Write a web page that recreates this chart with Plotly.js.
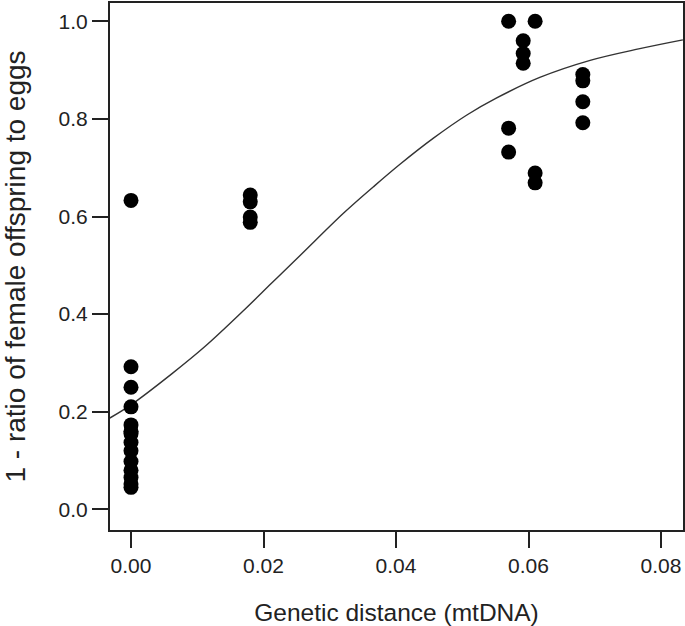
<!DOCTYPE html>
<html>
<head>
<meta charset="utf-8">
<script src="https://cdn.plot.ly/plotly-3.0.1.min.js"></script>
<style>html,body{margin:0;padding:0;background:#fff;}#chart{width:685px;height:626px;}</style>
</head>
<body>
<div id="chart"></div>
<script>
// Observed points: genetic distance (mtDNA) vs 1 - ratio of female offspring to eggs
const distX = [
  0, 0, 0, 0, 0, 0, 0, 0, 0, 0, 0, 0, 0, 0,
  0.018, 0.018, 0.018, 0.018,
  0.057, 0.057, 0.057,
  0.0592, 0.0592, 0.0592,
  0.061, 0.061, 0.061,
  0.0682, 0.0682, 0.0682, 0.0682
];
const ratioY = [
  0.633, 0.292, 0.250, 0.210, 0.173, 0.155, 0.137, 0.120, 0.098, 0.080, 0.065, 0.052, 0.045, 0.160,
  0.644, 0.630, 0.599, 0.588,
  1.000, 0.781, 0.732,
  0.960, 0.934, 0.914,
  1.000, 0.689, 0.669,
  0.891, 0.878, 0.835, 0.792
];

// Fitted curve
const curveX = [-0.0032, 0.0, 0.0061, 0.0112, 0.0172, 0.0212, 0.0256, 0.0321, 0.0366, 0.0406, 0.0456, 0.0507, 0.0552, 0.0617, 0.0693, 0.0768, 0.0833];
const curveY = [0.187, 0.214, 0.277, 0.334, 0.410, 0.463, 0.521, 0.607, 0.661, 0.707, 0.760, 0.808, 0.843, 0.885, 0.920, 0.944, 0.962];

const xTicks = [0, 0.02, 0.04, 0.06, 0.08];
const xTickText = ["0.00", "0.02", "0.04", "0.06", "0.08"];
const yTicks = [0, 0.2, 0.4, 0.6, 0.8, 1.0];
const yTickText = ["0.0", "0.2", "0.4", "0.6", "0.8", "1.0"];

const font = "Liberation Sans, Arial, sans-serif";

const traces = [
  {
    x: curveX, y: curveY, type: "scatter", mode: "lines",
    line: {color: "#333333", width: 1.4, shape: "spline", smoothing: 1},
    hoverinfo: "skip"
  },
  {
    x: distX, y: ratioY, type: "scatter", mode: "markers",
    marker: {color: "#000000", size: 15, line: {width: 0}}
  }
];

const layout = {
  width: 685, height: 626,
  margin: {l: 110, r: 2, t: 3, b: 96},
  paper_bgcolor: "#ffffff", plot_bgcolor: "#ffffff",
  showlegend: false,
  font: {family: font, color: "#222222"},
  xaxis: {
    range: [-0.00317, 0.08332],
    tickvals: xTicks, ticktext: xTickText,
    ticks: "outside", ticklen: 16, tickwidth: 2, tickcolor: "#222",
    showline: true, linecolor: "#222", linewidth: 2, mirror: true,
    showgrid: false, zeroline: false,
    tickfont: {family: font, size: 21, color: "#222"},
    title: {text: "Genetic distance (mtDNA)", font: {family: font, size: 24.5, color: "#222"}, standoff: 29}
  },
  yaxis: {
    range: [-0.0424, 1.0375],
    tickvals: yTicks, ticktext: yTickText,
    ticks: "outside", ticklen: 16, tickwidth: 2, tickcolor: "#222",
    showline: true, linecolor: "#222", linewidth: 2, mirror: true,
    showgrid: false, zeroline: false,
    tickfont: {family: font, size: 21, color: "#222"},
    title: {text: "1 - ratio of female offspring to eggs", font: {family: font, size: 28, color: "#222"}, standoff: 30}
  }
};

Plotly.newPlot("chart", traces, layout, {displayModeBar: false, staticPlot: true});
</script>
</body>
</html>
